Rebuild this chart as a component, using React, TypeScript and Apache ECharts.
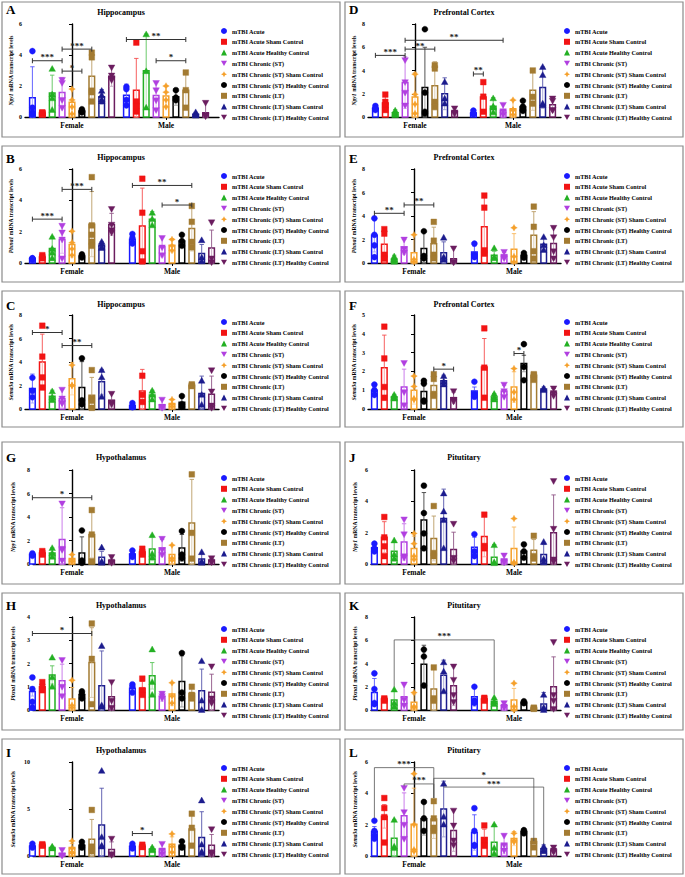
import React, { useEffect, useRef } from 'react';
import * as echarts from 'echarts';

// ---- groups and labels ----
const groupNames = [
  'mTBI Acute',
  'mTBI Acute Sham Control',
  'mTBI Acute Healthy Control',
  'mTBI Chronic (ST)',
  'mTBI Chronic (ST) Sham Control',
  'mTBI Chronic (ST) Healthy Control',
  'mTBI Chronic (LT)',
  'mTBI Chronic (LT) Sham Control',
  'mTBI Chronic (LT) Healthy Control',
];
const sexLabels = ['Female', 'Male'];

// ---- Hippocampus Npy1 (A) ----
const hipNpyMean = [
  [1.25, 0.26, 1.55, 1.58, 0.95, 0.39, 2.63, 1.3, 2.63],
  [1.4, 1.73, 2.98, 1.38, 1.36, 1.3, 1.73, 0.17, 0.28],
];
const hipNpySd = [
  [1.99, 0.06, 1.15, 0.97, 0.89, 0.11, 1.41, 0.47, 0.65],
  [0.72, 2.05, 2.37, 0.89, 0.63, 0.54, 1.14, 0.13, 0.69],
];
const hipNpyPts = [
  [[4.25, 0.6, 0.3, 0.15], [0.3, 0.25, 0.2, 0.25], [3.1, 1.45, 1.2, 0.45], [2.4, 2.2, 1.1, 0.6], [1.8, 1.1, 0.65, 0.2], [0.5, 0.4, 0.35, 0.3], [4.15, 3.85, 1.7, 1.6, 1.0], [1.68, 1.4, 1.12, 1.0], [3.2, 2.68, 2.48, 2.38]],
  [[1.95, 1.8, 1.1, 0.75], [4.8, 1.0, 0.7, 0.35], [5.33, 2.95, 0.6], [2.2, 1.73, 1.08, 0.45], [2.0, 1.6, 1.1, 0.65], [1.73, 1.25, 1.15, 1.08], [2.87, 1.73, 0.6], [0.3, 0.18, 0.1, 0.1], [0.92, 0.1, 0.05]],
];
const hipNpySig: any[] = [
  [0, 0, 0, 3, 3.63, '***'], [0, 3, 0, 5, 2.96, '*'], [0, 3, 0, 6, 4.38, '***'],
  [1, 0, 1, 6, 5.0, '**'], [1, 3, 1, 6, 3.63, '*'],
];

// ---- Hippocampus Plxna1 (B) ----
const hipPlxMean = [
  [0.28, 0.39, 0.92, 1.52, 1.18, 0.45, 2.48, 1.13, 2.46],
  [1.52, 2.36, 2.8, 1.03, 1.13, 1.41, 2.2, 0.6, 0.96],
];
const hipPlxSd = [
  [0.06, 0.15, 0.75, 0.9, 0.81, 0.15, 2.08, 0.22, 0.71],
  [0.43, 2.42, 0.48, 0.64, 0.43, 0.32, 1.44, 0.58, 1.14],
];
const hipPlxPts = [
  [[0.3, 0.25, 0.2, 0.3], [0.5, 0.4, 0.3], [1.67, 0.9, 0.65, 0.3], [2.38, 1.95, 1.5, 0.3], [2.03, 1.3, 0.9, 0.5], [0.55, 0.45, 0.35], [5.48, 2.4, 1.8, 1.35, 1.1], [1.35, 1.2, 1.0, 0.95], [3.45, 2.45, 2.1, 1.95]],
  [[1.85, 1.6, 1.3, 1.25], [5.38, 3.21, 0.75, 0.1], [3.2, 2.8, 2.4], [1.6, 1.0, 0.5], [1.5, 1.1, 0.8], [1.8, 1.4, 1.1], [3.64, 2.63, 1.35, 1.0], [1.45, 0.35, 0.1], [2.6, 0.3, 0.05]],
];
const hipPlxSig: any[] = [
  [0, 0, 0, 3, 2.8, '***'], [0, 3, 0, 6, 4.7, '***'],
  [1, 0, 1, 6, 4.95, '**'], [1, 3, 1, 6, 3.7, '*'],
];

// ---- Hippocampus Sema3a (C) ----
const hipSemaMean = [
  [1.74, 4.0, 1.09, 0.89, 2.57, 1.83, 1.17, 2.31, 0.74],
  [0.29, 1.54, 1.2, 0.37, 0.46, 0.57, 2.03, 1.31, 1.26],
];
const hipSemaSd = [
  [1.23, 2.37, 0.51, 0.8, 1.37, 2.2, 1.52, 1.06, 0.57],
  [0.16, 1.83, 0.4, 0.43, 0.37, 0.52, 0.14, 1.49, 1.54],
];
const hipSemaPts = [
  [[2.66, 1.55, 1.0], [7.09, 4.46, 2.69, 1.83], [1.5, 1.0, 0.75], [1.65, 0.9, 0.5, 0.5], [3.74, 2.0, 2.0], [4.31, 0.74, 0.4], [3.31, 0.9, 0.7, 0.1], [3.31, 2.69, 1.03], [1.3, 0.55, 0.4]],
  [[0.5, 0.25, 0.15], [2.83, 1.2, 0.6], [1.55, 1.2, 0.8], [0.8, 0.2, 0.1], [0.8, 0.4, 0.2], [1.1, 0.4, 0.2], [2.1, 2.0, 1.95], [2.4, 1.2, 0.35], [3.3, 1.5, 0.3, 0.1]],
];
const hipSemaSig: any[] = [[0, 0, 0, 3, 6.51, '*'], [0, 3, 0, 6, 5.4, '**']];

// ---- Prefrontal Cortex Npy1 (D) ----
const pfcNpyMean = [
  [0.75, 1.2, 0.37, 2.96, 1.73, 2.53, 2.68, 2.0, 0.5],
  [0.35, 1.73, 0.92, 0.58, 0.72, 0.86, 2.3, 2.53, 1.06],
];
const pfcNpySd = [
  [0.23, 0.76, 0.26, 2.22, 2.07, 3.47, 2.07, 1.37, 0.36],
  [0.25, 1.2, 0.75, 0.57, 0.8, 0.58, 1.73, 1.77, 0.61],
];
const pfcNpyPts = [
  [[0.95, 0.75, 0.6, 0.7], [1.93, 1.3, 1.0, 0.6], [0.55, 0.35, 0.2], [4.9, 3.0, 2.1, 1.0], [3.68, 1.95, 1.1, 0.3], [7.55, 2.1, 0.45, 0.3], [4.46, 4.17, 1.3, 0.86], [3.0, 1.58, 1.15], [0.75, 0.4, 0.3]],
  [[0.55, 0.3, 0.25, 0.3], [3.0, 1.75, 0.45], [1.6, 0.9, 0.4, 0.8], [1.05, 0.5, 0.2], [1.45, 0.6, 0.2, 0.6], [1.4, 0.9, 0.6, 0.55], [4.0, 1.73, 1.15], [4.3, 3.6, 1.15, 1.0], [1.6, 1.4, 0.6, 0.6]],
];
const pfcNpySig: any[] = [
  [0, 0, 0, 3, 5.3, '***'], [0, 3, 0, 6, 5.84, '**'], [0, 3, 1, 3, 6.6, '**'], [1, 0, 1, 1, 3.7, '**'],
];

// ---- Prefrontal Cortex Plxna1 (E) ----
const pfcPlxMean = [
  [2.37, 1.6, 0.3, 1.37, 0.88, 1.23, 1.63, 0.88, 0.37],
  [0.94, 3.08, 0.66, 0.66, 1.17, 0.66, 2.37, 1.6, 1.66],
];
const pfcPlxSd = [
  [1.43, 1.34, 0.36, 0.63, 1.55, 1.47, 1.42, 0.92, 0.92],
  [0.52, 2.49, 0.34, 0.24, 1.33, 0.24, 2.0, 0.48, 1.34],
];
const pfcPlxPts = [
  [[3.8, 2.4, 1.5, 0.5], [2.88, 2.5, 0.7, 0.37], [0.55, 0.3, 0.1], [2.0, 1.2, 0.9], [2.4, 0.3, 0.1], [2.7, 0.6, 0.4], [3.5, 1.9, 0.7, 0.4], [2.15, 0.5, 0.3], [1.25, 0.1, 0.05]],
  [[1.65, 0.7, 0.5], [5.74, 4.71, 1.08, 0.8], [1.25, 0.5, 0.4], [0.95, 0.55, 0.4], [3.0, 0.55, 0.1], [0.85, 0.6, 0.45], [4.8, 3.08, 1.0, 0.37], [2.2, 1.5, 1.1], [3.0, 2.2, 1.0, 0.4]],
];
const pfcPlxSig: any[] = [[0, 0, 0, 3, 4.23, '**'], [0, 3, 0, 6, 4.94, '**']];

// ---- Prefrontal Cortex Sema3a (F) ----
const pfcSemaMean = [
  [1.0, 2.19, 0.64, 1.17, 1.0, 0.93, 1.25, 1.5, 0.6],
  [0.96, 2.24, 0.64, 0.96, 1.17, 2.42, 1.8, 1.07, 0.9],
];
const pfcSemaSd = [
  [0.17, 1.74, 0.14, 0.95, 0.74, 0.67, 0.6, 0.3, 0.3],
  [0.21, 1.51, 0.18, 0.3, 0.81, 0.44, 0.09, 0.1, 0.19],
];
const pfcSemaPts = [
  [[1.3, 1.0, 0.75], [4.38, 2.69, 1.17, 0.6], [0.75, 0.6, 0.55], [2.45, 0.9, 0.2], [1.75, 1.2, 0.5, 0.55], [1.5, 1.35, 0.45, 0.4], [1.85, 1.6, 0.8, 0.7], [1.75, 1.45, 1.3], [0.95, 0.5, 0.4]],
  [[1.45, 0.8, 0.65], [4.29, 2.2, 0.6], [0.8, 0.6, 0.5], [1.3, 0.95, 0.65], [2.15, 0.9, 0.5], [3.45, 2.24, 1.53], [1.85, 1.8, 1.55], [1.1, 1.05, 1.0], [1.1, 0.85, 0.7]],
];
const pfcSemaSig: any[] = [[0, 6, 0, 8, 2.12, '*'], [1, 4, 1, 5, 2.95, '*']];

// ---- Hypothalamus Npy1 (G) ----
const hypNpyMean = [
  [0.8, 0.94, 0.94, 2.08, 0.46, 0.94, 2.51, 0.57, 0.28],
  [0.85, 1.03, 1.28, 1.37, 0.8, 1.37, 3.5, 0.43, 0.28],
];
const hypNpySd = [
  [0.17, 0.2, 0.43, 2.71, 0.34, 1.37, 1.99, 0.51, 0.37],
  [0.29, 0.19, 1.0, 0.71, 0.8, 1.14, 3.7, 0.42, 0.22],
];
const hypNpyPts = [
  [[0.9, 0.8, 0.7], [1.1, 0.95, 0.8], [1.35, 0.9, 0.6], [5.16, 1.3, 1.2, 0.3], [0.8, 0.35, 0.2], [2.85, 0.3, 0.1], [4.59, 2.51, 0.23], [1.4, 0.2, 0.1], [0.6, 0.2, 0.1]],
  [[1.15, 0.8, 0.6], [1.3, 1.0, 0.8], [2.45, 0.85, 0.55], [2.15, 1.2, 0.8], [1.6, 0.5, 0.3], [2.8, 0.8, 0.5], [7.63, 2.65, 0.46], [1.0, 0.2, 0.1], [0.5, 0.2, 0.15]],
];
const hypNpySig: any[] = [[0, 0, 0, 6, 5.64, '*']];

// ---- Hypothalamus Plxna1 (H) ----
const hypPlxMean = [
  [0.8, 1.0, 1.51, 1.26, 0.47, 0.66, 2.04, 1.04, 0.57],
  [0.94, 0.94, 1.47, 0.59, 0.69, 1.23, 0.71, 0.83, 0.76],
];
const hypPlxSd = [
  [0.2, 0.19, 0.39, 0.71, 0.5, 0.13, 1.5, 1.5, 0.69],
  [0.17, 0.29, 0.57, 0.21, 0.5, 1.1, 0.33, 0.93, 0.78],
];
const hypPlxPts = [
  [[1.4, 0.9, 0.35, 0.1], [1.2, 1.0, 0.85], [2.25, 1.4, 1.0], [2.15, 1.0, 0.6], [1.28, 0.2, 0.1], [0.8, 0.7, 0.5], [3.72, 2.2, 0.25], [2.75, 0.2, 0.15], [1.2, 0.4, 0.1]],
  [[1.1, 1.0, 0.75], [1.35, 0.85, 0.65], [2.6, 1.2, 0.65], [0.7, 0.6, 0.5], [1.17, 0.6, 0.3], [2.45, 0.75, 0.5], [1.0, 0.65, 0.5], [2.1, 0.4, 0.0], [1.88, 0.5, 0.35, 0.3]],
];
const hypPlxSig: any[] = [[0, 0, 0, 6, 3.29, '*']];

// ---- Hypothalamus Sema3a (I) ----
const hypSemaMean = [
  [1.07, 1.18, 0.9, 0.25, 0.9, 1.14, 1.79, 3.29, 0.68],
  [1.04, 1.04, 0.75, 0.71, 1.25, 1.14, 2.86, 1.96, 1.14],
];
const hypSemaSd = [
  [0.25, 0.14, 0.14, 0.43, 0.42, 0.36, 2.1, 3.92, 0.82],
  [0.28, 0.21, 0.21, 0.61, 0.79, 0.36, 1.68, 2.75, 1.15],
];
const hypSemaPts = [
  [[1.3, 1.0, 0.9], [1.25, 1.15, 1.1], [1.0, 0.9, 0.8], [0.65, 0.1, 0.05], [1.6, 0.8, 0.3, 0.4], [1.5, 1.1, 0.9], [4.9, 0.7, 0.5, 1.0], [9.05, 2.0, 1.0, 1.1], [1.85, 0.2, 0.1]],
  [[1.3, 1.0, 0.8], [1.2, 1.0, 0.95], [0.9, 0.7, 0.6], [1.3, 0.6, 0.2], [2.35, 1.0, 0.4], [1.55, 1.0, 0.9], [4.5, 3.0, 1.1], [5.9, 1.2, 0.3, 0.45], [2.85, 0.4, 0.2]],
];
const hypSemaSig: any[] = [[1, 0, 1, 2, 2.39, '*']];

// ---- Pituitary Npy1 (J) ----
const pitNpyMean = [
  [1.03, 1.71, 0.81, 1.41, 0.99, 2.81, 1.63, 2.91, 0.92],
  [1.07, 1.76, 0.43, 0.28, 0.99, 0.81, 0.88, 0.6, 2.0],
];
const pitNpySd = [
  [0.21, 0.99, 0.65, 1.16, 0.79, 1.75, 1.43, 1.87, 1.11],
  [0.64, 1.3, 0.81, 0.32, 1.37, 0.48, 0.68, 0.64, 2.41],
];
const pitNpyPts = [
  [[1.3, 1.0, 0.8], [3.0, 1.7, 1.13, 0.5], [1.5, 0.6, 0.35], [2.85, 1.9, 0.5, 0.4], [1.95, 1.3, 0.5, 0.3], [5.0, 3.25, 1.95, 1.0], [3.7, 0.7, 0.5], [4.5, 3.35, 2.8, 1.0], [2.57, 0.4, 0.2]],
  [[1.9, 0.8, 0.5], [3.15, 1.15, 1.0], [1.2, 0.1, 0.05], [0.55, 0.2, 0.1], [2.9, 0.1, 0.05], [1.25, 0.8, 0.4], [1.8, 0.5, 0.35], [1.4, 0.3, 0.1], [5.3, 2.25, 0.3, 0.15]],
];
const pitNpySig: any[] = [];

// ---- Pituitary Plxna1 (K) ----
const pitPlxMean = [
  [1.51, 0.94, 0.86, 1.14, 0.66, 3.94, 1.8, 3.0, 2.09],
  [1.14, 0.94, 0.74, 0.37, 0.86, 0.66, 0.17, 0.51, 2.0],
];
const pitPlxSd = [
  [1.2, 0.15, 0.74, 1.09, 0.71, 1.63, 1.86, 1.29, 1.71],
  [0.8, 0.11, 0.29, 0.37, 1.0, 0.14, 0.03, 1.0, 2.57],
];
const pitPlxPts = [
  [[3.15, 1.8, 0.6, 0.5], [1.0, 0.9, 0.8], [1.75, 0.6, 0.3], [2.2, 0.9, 0.4], [1.5, 0.3, 0.2], [5.2, 4.6, 2.1], [3.66, 1.0, 0.8], [4.1, 3.3, 1.6], [3.75, 2.6, 1.3, 0.7]],
  [[2.0, 0.8, 0.6], [1.05, 0.95, 0.8], [1.05, 0.7, 0.5], [0.6, 0.3, 0.2], [2.3, 0.3, 0.0], [0.75, 0.6, 0.6], [0.2, 0.15, 0.1], [1.3, 0.2, 0.0], [5.85, 1.3, 0.8, 0.1]],
];
const pitPlxSig: any[] = [[0, 2, 1, 2, 6.03, '***', 2.0, 1.35]];

// ---- Pituitary Sema3a (L) ----
const pitSemaMean = [
  [1.56, 2.53, 1.14, 2.57, 2.03, 2.38, 2.36, 3.0, 1.63],
  [1.5, 1.18, 0.88, 0.77, 1.11, 1.56, 0.92, 0.45, 0.39],
];
const pitSemaSd = [
  [0.32, 0.75, 1.17, 1.46, 2.3, 1.05, 1.24, 1.78, 1.33],
  [1.13, 0.53, 1.11, 0.64, 0.45, 0.15, 0.03, 0.26, 0.21],
];
const pitSemaPts = [
  [[2.25, 1.6, 1.3, 1.1], [3.7, 3.06, 2.48, 0.86], [2.3, 0.6, 0.5], [4.35, 2.8, 2.0, 1.1], [5.25, 2.0, 0.4, 0.3], [3.45, 2.4, 1.6], [3.5, 2.4, 1.6, 1.8], [4.6, 2.5, 2.0], [2.9, 1.95, 1.0, 0.7]],
  [[3.05, 1.6, 0.7, 0.65], [1.95, 1.0, 0.65], [2.0, 0.5, 0.15], [1.3, 0.7, 0.35], [1.45, 1.0, 0.9], [1.65, 1.55, 1.45], [0.95, 0.95, 0.55], [0.6, 0.4, 0.3], [0.55, 0.35, 0.25]],
];
const pitSemaSig: any[] = [
  [0, 0, 0, 6, 5.64, '***', 2.4, 3.7],
  [0, 3, 0, 6, 4.6, '***', 4.45, 3.7],
  [0, 6, 1, 6, 4.96, '*', 3.7, 0.95],
  [0, 7, 1, 7, 4.4, '***', 4.4, 0.75],
];

// ---- styling ----
const groupColors = ['#1a1aff', '#f21414', '#23b023', '#b13fe0', '#f5a02a', '#000000', '#a37b32', '#1c1c8e', '#6b1d5f'];
const groupSymbols = [0, 1, 2, 3, 4, 0, 1, 2, 3];
const legendIcons = [
  'circle', 'rect', 'triangle', 'path://M0,0L10,0L5,9Z',
  'path://M5,0L6.6,3.4L10,5L6.6,6.6L5,10L3.4,6.6L0,5L3.4,3.4Z',
  'circle', 'rect', 'triangle', 'path://M0,0L10,0L5,9Z',
];
const FONT = '"Liberation Serif", "Times New Roman", serif';
const PITCH = 9.9;
const BAR_W = 5.6;
const SYM = 6;

const rowLayout = [
  { boxY: 2, boxH: 135, yTop: 24, yZero: 117, letterY: 9, titleY: 12, legendY: 31 },
  { boxY: 146, boxH: 136, yTop: 169, yZero: 263, letterY: 158, titleY: 157, legendY: 176 },
  { boxY: 291, boxH: 136, yTop: 315, yZero: 409, letterY: 305, titleY: 304, legendY: 322 },
  { boxY: 442, boxH: 142, yTop: 470, yZero: 564, letterY: 457, titleY: 457, legendY: 478 },
  { boxY: 593, boxH: 137, yTop: 617, yZero: 710, letterY: 605, titleY: 605, legendY: 629 },
  { boxY: 739, boxH: 135, yTop: 762, yZero: 856, letterY: 752, titleY: 750, legendY: 768 },
];
const colLayout = [
  { boxX: 2, boxW: 338, axisUpper: 25, axisLower: 33, axisR: 219, femX: 72, maleX: 172, nameUpper: 11, nameLower: 13, letterX: 6, titleX: 121, legendX: 221 },
  { boxX: 345, boxW: 338, axisUpper: 368, axisLower: 371, axisR: 561, femX: 414, maleX: 514, nameUpper: 354, nameLower: 355, letterX: 349, titleX: 464, legendX: 564 },
];

const panels = [
  { letter: 'A', region: 'Hippocampus', gene: 'Npy1', mean: hipNpyMean, sd: hipNpySd, pts: hipNpyPts, sig: hipNpySig, max: 6, step: 2, col: 0, row: 0, maleX: 166 },
  { letter: 'B', region: 'Hippocampus', gene: 'Plxna1', mean: hipPlxMean, sd: hipPlxSd, pts: hipPlxPts, sig: hipPlxSig, max: 6, step: 2, col: 0, row: 1 },
  { letter: 'C', region: 'Hippocampus', gene: 'Sema3a', mean: hipSemaMean, sd: hipSemaSd, pts: hipSemaPts, sig: hipSemaSig, max: 8, step: 2, col: 0, row: 2 },
  { letter: 'D', region: 'Prefrontal Cortex', gene: 'Npy1', mean: pfcNpyMean, sd: pfcNpySd, pts: pfcNpyPts, sig: pfcNpySig, max: 8, step: 2, col: 1, row: 0, femX: 415, maleX: 513 },
  { letter: 'E', region: 'Prefrontal Cortex', gene: 'Plxna1', mean: pfcPlxMean, sd: pfcPlxSd, pts: pfcPlxPts, sig: pfcPlxSig, max: 8, step: 2, col: 1, row: 1 },
  { letter: 'F', region: 'Prefrontal Cortex', gene: 'Sema3a', mean: pfcSemaMean, sd: pfcSemaSd, pts: pfcSemaPts, sig: pfcSemaSig, max: 5, step: 1, col: 1, row: 2 },
  { letter: 'G', region: 'Hypothalamus', gene: 'Npy1', mean: hypNpyMean, sd: hypNpySd, pts: hypNpyPts, sig: hypNpySig, max: 8, step: 2, col: 0, row: 3 },
  { letter: 'H', region: 'Hypothalamus', gene: 'Plxna1', mean: hypPlxMean, sd: hypPlxSd, pts: hypPlxPts, sig: hypPlxSig, max: 4, step: 1, col: 0, row: 4 },
  { letter: 'I', region: 'Hypothalamus', gene: 'Sema3a', mean: hypSemaMean, sd: hypSemaSd, pts: hypSemaPts, sig: hypSemaSig, max: 10, step: 5, col: 0, row: 5 },
  { letter: 'J', region: 'Pitutitary', gene: 'Npy1', mean: pitNpyMean, sd: pitNpySd, pts: pitNpyPts, sig: pitNpySig, max: 6, step: 2, col: 1, row: 3 },
  { letter: 'K', region: 'Pitutitary', gene: 'Plxna1', mean: pitPlxMean, sd: pitPlxSd, pts: pitPlxPts, sig: pitPlxSig, max: 8, step: 2, col: 1, row: 4 },
  { letter: 'L', region: 'Pitutitary', gene: 'Sema3a', mean: pitSemaMean, sd: pitSemaSd, pts: pitSemaPts, sig: pitSemaSig, max: 6, step: 2, col: 1, row: 5 },
];

function tint(hex: string, t: number) {
  const n = parseInt(hex.slice(1), 16);
  const m = (c: number) => Math.round(c + (255 - c) * t);
  return `rgb(${m((n >> 16) & 255)},${m((n >> 8) & 255)},${m(n & 255)})`;
}

function marker(kind: number, x: number, y: number, s: number, color: string): any {
  const h = s / 2;
  const style = { fill: color, stroke: color, lineWidth: 0.4 };
  if (kind === 0) return { type: 'circle', shape: { cx: x, cy: y, r: h }, style };
  if (kind === 1) return { type: 'rect', shape: { x: x - h * 0.95, y: y - h * 0.95, width: s * 0.95, height: s * 0.95 }, style };
  if (kind === 2) return { type: 'polygon', shape: { points: [[x, y - h * 1.15], [x + h * 1.1, y + h * 0.8], [x - h * 1.1, y + h * 0.8]] }, style };
  if (kind === 3) return { type: 'polygon', shape: { points: [[x - h * 1.1, y - h * 0.8], [x + h * 1.1, y - h * 0.8], [x, y + h * 1.15]] }, style };
  const k = h * 0.38;
  return {
    type: 'polygon',
    shape: { points: [[x, y - h * 1.1], [x + k, y - k], [x + h * 1.1, y], [x + k, y + k], [x, y + h * 1.1], [x - k, y + k], [x - h * 1.1, y], [x - k, y - k]] },
    style,
  };
}

function buildOption() {
  const grid: any[] = [];
  const xAxis: any[] = [];
  const yAxis: any[] = [];
  const series: any[] = [];
  const legend: any[] = [];
  const graphic: any[] = [];

  panels.forEach((p: any, pi) => {
    const r = rowLayout[p.row];
    const c = colLayout[p.col];
    const lower = p.row >= 3;
    const axisX = lower ? c.axisLower : c.axisUpper;
    const nameX = lower ? c.nameLower : c.nameUpper;
    const fx = p.femX ?? c.femX;
    const mx = p.maleX ?? c.maleX;
    const span = mx - fx;

    grid.push({ left: axisX, top: r.yTop, width: c.axisR - axisX, height: r.yZero - r.yTop });
    xAxis.push({
      gridIndex: pi,
      type: 'value',
      min: (axisX - fx) / span,
      max: (c.axisR - fx) / span,
      axisLine: { show: true, lineStyle: { color: '#000', width: 1.4 } },
      axisTick: { show: true, customValues: [0, 1], length: 3, lineStyle: { color: '#000', width: 1 } },
      axisLabel: {
        customValues: [0, 1],
        formatter: (v: number) => sexLabels[Math.round(v)],
        fontFamily: FONT, fontWeight: 'bold', fontSize: 7.5, color: '#000', margin: 4,
      },
      splitLine: { show: false },
    });
    yAxis.push({
      gridIndex: pi,
      type: 'value',
      min: 0,
      max: p.max,
      interval: p.step,
      axisLine: { show: true, lineStyle: { color: '#000', width: 1.4 } },
      axisTick: { show: true, length: 3, lineStyle: { color: '#000', width: 1 } },
      axisLabel: { fontFamily: FONT, fontWeight: 'bold', fontSize: 6, color: '#000', margin: 3 },
      splitLine: { show: false },
      name: `{i|${p.gene}} mRNA transcript levels`,
      nameLocation: 'middle',
      nameGap: axisX - nameX - 3,
      nameTextStyle: {
        fontFamily: FONT, fontWeight: 'bold', fontSize: 5.6, color: '#000',
        rich: { i: { fontFamily: FONT, fontStyle: 'italic', fontWeight: 'bold', fontSize: 5.6, color: '#000' } },
      },
    });

    // bars, error bars and individual points for each group
    groupNames.forEach((name, g) => {
      const color = groupColors[g];
      const pale = tint(color, 0.6);
      const whisker = tint(color, 0.25);
      series.push({
        type: 'custom',
        name,
        xAxisIndex: pi,
        yAxisIndex: pi,
        silent: true,
        z: 2,
        itemStyle: { color },
        encode: { x: 0, y: 1 },
        data: [0, 1].map((s) => [s, p.mean[s][g]]),
        renderItem: (params: any, api: any) => {
          const s = params.dataIndex;
          const m = p.mean[s][g];
          const d = p.sd[s][g];
          const base = api.coord([s, 0]);
          const cx = base[0] + (g - 4) * PITCH;
          const y0 = base[1];
          const yM = api.coord([s, m])[1];
          const yHi = api.coord([s, m + d])[1];
          const yLo = api.coord([s, Math.max(0, m - d)])[1];
          const cap = 2.2;
          const children: any[] = [
            { type: 'rect', shape: { x: cx - BAR_W / 2, y: yM, width: BAR_W, height: y0 - yM }, style: { fill: '#fff', stroke: color, lineWidth: 1.5 } },
            { type: 'line', shape: { x1: cx, y1: yM, x2: cx, y2: yLo }, style: { stroke: pale, lineWidth: 0.9 } },
            { type: 'line', shape: { x1: cx - cap, y1: yLo, x2: cx + cap, y2: yLo }, style: { stroke: pale, lineWidth: 0.9 } },
            { type: 'line', shape: { x1: cx, y1: yM, x2: cx, y2: yHi }, style: { stroke: whisker, lineWidth: 0.9 } },
            { type: 'line', shape: { x1: cx - cap, y1: yHi, x2: cx + cap, y2: yHi }, style: { stroke: whisker, lineWidth: 0.9 } },
          ];
          p.pts[s][g].forEach((v: number) => {
            children.push(marker(groupSymbols[g], cx, api.coord([s, v])[1], SYM, color));
          });
          return { type: 'group', children };
        },
      });
    });

    // significance brackets
    if (p.sig.length) {
      series.push({
        type: 'custom',
        xAxisIndex: pi,
        yAxisIndex: pi,
        silent: true,
        z: 5,
        encode: { x: 0, y: 1 },
        data: p.sig.map((b: any[]) => [b[0], b[4]]),
        renderItem: (params: any, api: any) => {
          const b = p.sig[params.dataIndex];
          const xa = api.coord([b[0], 0])[0] + (b[1] - 4) * PITCH;
          const xb = api.coord([b[2], 0])[0] + (b[3] - 4) * PITCH;
          const y = api.coord([0, b[4]])[1];
          const drop = b.length > 6;
          const stroke = drop ? '#555' : '#333';
          const lw = drop ? 0.8 : 1;
          const children: any[] = [
            { type: 'line', shape: { x1: xa, y1: y, x2: xb, y2: y }, style: { stroke, lineWidth: lw } },
          ];
          if (drop) {
            children.push({ type: 'line', shape: { x1: xa, y1: y, x2: xa, y2: api.coord([0, b[6]])[1] }, style: { stroke, lineWidth: lw } });
            children.push({ type: 'line', shape: { x1: xb, y1: y, x2: xb, y2: api.coord([0, b[7]])[1] }, style: { stroke, lineWidth: lw } });
          } else {
            children.push({ type: 'line', shape: { x1: xa, y1: y - 2.5, x2: xa, y2: y + 2.5 }, style: { stroke, lineWidth: lw } });
            children.push({ type: 'line', shape: { x1: xb, y1: y - 2.5, x2: xb, y2: y + 2.5 }, style: { stroke, lineWidth: lw } });
          }
          children.push({
            type: 'text',
            style: {
              text: b[5], x: (xa + xb) / 2, y: y - 3.5,
              align: 'center', verticalAlign: 'middle', textAlign: 'center', textVerticalAlign: 'middle',
              fontFamily: FONT, fontWeight: 'bold', fontSize: 9, fill: '#222',
            },
          });
          return { type: 'group', children };
        },
      });
    }

    legend.push({
      orient: 'vertical',
      left: c.legendX,
      top: r.legendY - 3.5,
      padding: 0,
      itemWidth: 6,
      itemHeight: 6,
      itemGap: 3.8,
      selectedMode: false,
      textStyle: { fontFamily: FONT, fontWeight: 'bold', fontSize: 6.2, color: '#000', lineHeight: 7 },
      data: groupNames.map((n, g) => ({ name: n, icon: legendIcons[g], itemStyle: { color: groupColors[g] } })),
    });

    graphic.push({
      type: 'rect', silent: true,
      shape: { x: c.boxX, y: r.boxY, width: c.boxW, height: r.boxH },
      style: { fill: 'none', stroke: '#8a8a8a', lineWidth: 1.2 },
    });
    graphic.push({
      type: 'text', silent: true, x: c.letterX, y: r.letterY,
      style: {
        text: p.letter, fill: '#000', fontFamily: FONT, fontWeight: 'bold', fontSize: 13,
        align: 'left', verticalAlign: 'middle', textAlign: 'left', textVerticalAlign: 'middle',
      },
    });
    graphic.push({
      type: 'text', silent: true, x: c.titleX, y: r.titleY,
      style: {
        text: p.region, fill: '#000', fontFamily: FONT, fontWeight: 'bold', fontSize: 8,
        align: 'center', verticalAlign: 'middle', textAlign: 'center', textVerticalAlign: 'middle',
      },
    });
  });

  return { animation: false, backgroundColor: '#fff', grid, xAxis, yAxis, series, legend, graphic };
}

export default function App() {
  const ref = useRef<HTMLDivElement>(null);
  useEffect(() => {
    document.body.style.margin = '0';
    if (!ref.current) return;
    const chart = echarts.init(ref.current, undefined, { renderer: 'svg' });
    chart.setOption(buildOption() as any);
    return () => chart.dispose();
  }, []);
  return <div ref={ref} style={{ width: 685, height: 877 }} />;
}
